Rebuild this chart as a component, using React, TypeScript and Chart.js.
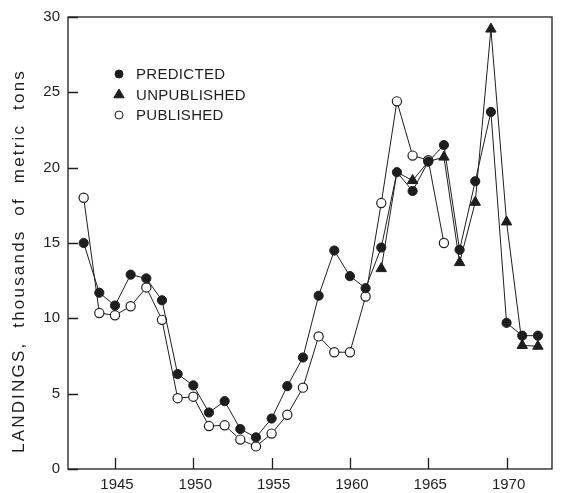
import { useEffect, useRef } from 'react';
import { Chart, registerables } from 'chart.js';

Chart.register(...registerables);

const years = [
  1943, 1944, 1945, 1946, 1947, 1948, 1949, 1950, 1951, 1952,
  1953, 1954, 1955, 1956, 1957, 1958, 1959, 1960, 1961, 1962,
  1963, 1964, 1965, 1966, 1967, 1968, 1969, 1970, 1971, 1972,
];
const predicted = [
  15.0, 11.7, 10.85, 12.9, 12.65, 11.2, 6.3, 5.55, 3.75, 4.5,
  2.65, 2.1, 3.35, 5.5, 7.4, 11.5, 14.5, 12.8, 12.0, 14.7,
  19.7, 18.45, 20.4, 21.5, 14.55, 19.1, 23.7, 9.7, 8.85, 8.85,
];
const unpublished = [
  null, null, null, null, null, null, null, null, null, null,
  null, null, null, null, null, null, null, null, null, 13.3,
  19.7, 19.15, 20.4, 20.7, 13.7, 17.7, 29.2, 16.4, 8.2, 8.15,
];
const published = [
  18.0, 10.35, 10.2, 10.8, 12.05, 9.9, 4.7, 4.8, 2.85, 2.9,
  1.95, 1.5, 2.35, 3.6, 5.4, 8.8, 7.75, 7.75, 11.45, 17.65,
  24.4, 20.8, 20.5, 15.0, null, null, null, null, null, null,
];
const seriesLabels = ['PREDICTED', 'UNPUBLISHED', 'PUBLISHED'];
const xTicks = [1945, 1950, 1955, 1960, 1965, 1970];
const yTicks = [0, 5, 10, 15, 20, 25, 30];
const yTitle = 'LANDINGS,  thousands  of  metric  tons';

const INK = '#1e1e1e';
const FONT = '"Liberation Sans", Arial, sans-serif';

const decor = {
  id: 'decor',
  afterDraw(chart: any) {
    const { ctx, chartArea: a, scales } = chart;
    const x = scales.x;
    const y = scales.y;
    ctx.save();
    ctx.strokeStyle = INK;
    ctx.lineWidth = 1.3;
    ctx.strokeRect(a.left, a.top, a.right - a.left, a.bottom - a.top);
    ctx.beginPath();
    y.ticks.forEach((t: any) => {
      const py = Math.round(y.getPixelForValue(t.value)) + 0.5;
      ctx.moveTo(a.left, py);
      ctx.lineTo(a.left + 10, py);
    });
    x.ticks.forEach((t: any) => {
      const px = Math.round(x.getPixelForValue(t.value)) + 0.5;
      ctx.moveTo(px, a.bottom);
      ctx.lineTo(px, a.bottom - 11);
    });
    ctx.stroke();

    // y-axis title
    ctx.save();
    ctx.translate(19, (a.top + a.bottom) / 2 + 18);
    ctx.rotate(-Math.PI / 2);
    ctx.font = '17px ' + FONT;
    (ctx as any).letterSpacing = '2.2px';
    ctx.fillStyle = INK;
    ctx.textAlign = 'center';
    ctx.textBaseline = 'middle';
    ctx.fillText(yTitle, 0, 0);
    ctx.restore();

    // legend
    ctx.font = '15px ' + FONT;
    (ctx as any).letterSpacing = '0.3px';
    ctx.textAlign = 'left';
    ctx.textBaseline = 'middle';
    chart.data.datasets.forEach((ds: any, i: number) => {
      const cx = a.left + 51;
      const cy = a.top + 57 + i * 20.5;
      ctx.fillStyle = ds.pointBackgroundColor;
      ctx.strokeStyle = INK;
      ctx.lineWidth = 1;
      ctx.beginPath();
      if (ds.pointStyle === 'triangle') {
        const r = 5.5;
        ctx.moveTo(cx, cy - r);
        ctx.lineTo(cx + r * 0.95, cy + r * 0.6);
        ctx.lineTo(cx - r * 0.95, cy + r * 0.6);
        ctx.closePath();
      } else {
        ctx.arc(cx, cy, 4, 0, Math.PI * 2);
      }
      ctx.fill();
      ctx.stroke();
      ctx.fillStyle = INK;
      ctx.fillText(ds.label, cx + 17, cy + 1);
    });
    ctx.restore();
  },
};

export default function App() {
  const ref = useRef<HTMLCanvasElement>(null);
  useEffect(() => {
    if (!ref.current) return;
    const mk = (vals: (number | null)[]) => years.map((yr, i) => ({ x: yr, y: vals[i] }));
    const chart = new Chart(ref.current, {
      type: 'line',
      data: {
        datasets: [
          {
            label: seriesLabels[0],
            data: mk(predicted),
            borderColor: INK,
            borderWidth: 1,
            pointStyle: 'circle',
            pointRadius: 4.6,
            pointBackgroundColor: INK,
            pointBorderColor: INK,
            pointBorderWidth: 1,
            tension: 0,
          },
          {
            label: seriesLabels[1],
            data: mk(unpublished),
            borderColor: INK,
            borderWidth: 1,
            pointStyle: 'triangle',
            pointRadius: (c: any) =>
              c.raw && c.raw.y === predicted[c.dataIndex] ? 0 : 6,
            pointBackgroundColor: INK,
            pointBorderColor: INK,
            pointBorderWidth: 1,
            tension: 0,
          },
          {
            label: seriesLabels[2],
            data: mk(published),
            borderColor: INK,
            borderWidth: 1,
            pointStyle: 'circle',
            pointRadius: 4.6,
            pointBackgroundColor: '#ffffff',
            pointBorderColor: INK,
            pointBorderWidth: 1.2,
            tension: 0,
          },
        ],
      } as any,
      options: {
        animation: false,
        responsive: false,
        maintainAspectRatio: false,
        layout: { padding: { top: 12, right: 9, left: 0, bottom: 0 } },
        plugins: { legend: { display: false }, tooltip: { enabled: false } },
        scales: {
          x: {
            type: 'linear',
            min: 1942,
            max: 1972.9,
            grid: { display: false, drawTicks: false },
            border: { display: false },
            afterBuildTicks: (s: any) => {
              s.ticks = xTicks.map((v) => ({ value: v }));
            },
            afterFit: (s: any) => {
              s.height = 24;
            },
            ticks: {
              autoSkip: false,
              maxRotation: 0,
              padding: 7,
              labelOffset: 2,
              color: INK,
              font: { family: FONT, size: 15 },
              callback: (v: any) => String(v),
            },
          },
          y: {
            type: 'linear',
            min: 0,
            max: 30,
            grid: { display: false, drawTicks: false },
            border: { display: false },
            afterBuildTicks: (s: any) => {
              s.ticks = yTicks.map((v) => ({ value: v }));
            },
            afterFit: (s: any) => {
              s.width = 68;
            },
            ticks: {
              padding: 8,
              color: INK,
              font: { family: FONT, size: 15 },
              callback: (v: any) => String(v),
            },
          },
        },
      } as any,
      plugins: [decor],
    });
    return () => chart.destroy();
  }, []);
  return (
    <div style={{ position: 'absolute', left: 0, top: 0, width: 561, height: 493, background: '#fff' }}>
      <canvas ref={ref} width={561} height={493} style={{ display: 'block' }} />
    </div>
  );
}
